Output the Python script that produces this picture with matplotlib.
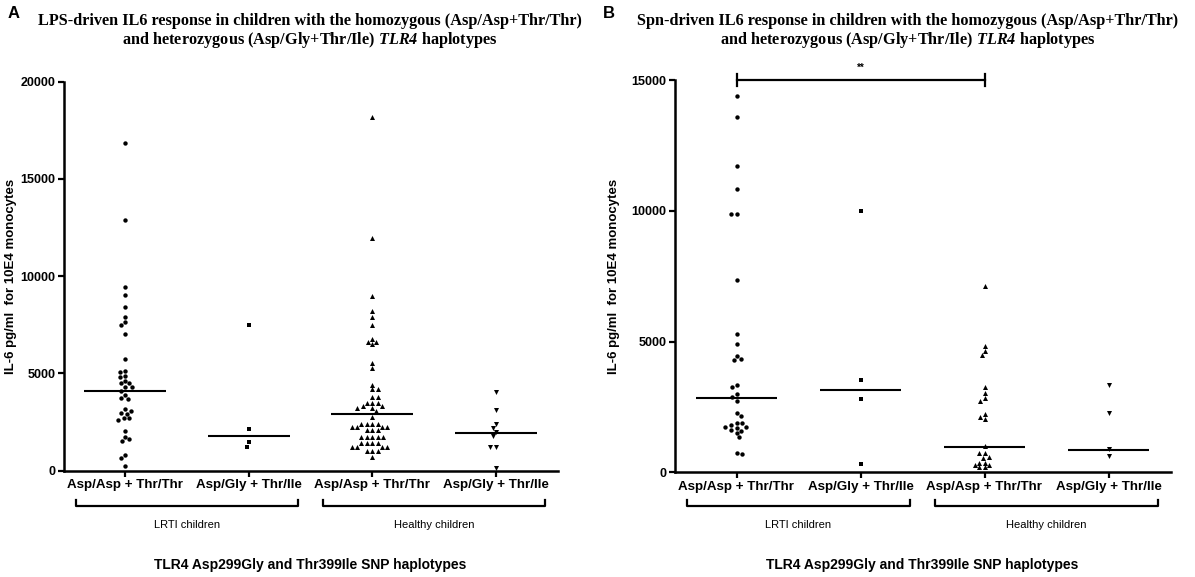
import numpy as np
import matplotlib
matplotlib.use("Agg")
import matplotlib.pyplot as plt
from matplotlib.lines import Line2D

plt.rcParams['font.family'] = ['Liberation Sans', 'DejaVu Sans']
plt.rcParams['mathtext.fontset'] = 'custom'
plt.rcParams['mathtext.it'] = 'Liberation Serif:italic:bold'
plt.rcParams['mathtext.rm'] = 'Liberation Serif:italic:bold'

groups = ["Asp/Asp + Thr/Thr", "Asp/Gly + Thr/Ile", "Asp/Asp + Thr/Thr", "Asp/Gly + Thr/Ile"]
cohorts = ["LRTI children", "Healthy children"]

# panel A: LPS-driven IL6 (pg/ml per 10E4 monocytes)
lps_lrti_homo = [16850, 12890, 9430, 9020, 8400, 7920, 7660, 7490, 7010, 5740, 5140, 5060,
                 4870, 4800, 4630, 4490, 4490, 4290, 4290, 4110, 3890, 3750, 3690, 3150, 3080,
                 2980, 2910, 2690, 2690, 2600, 2040, 1750, 1610, 1530, 810, 640, 240]
lps_lrti_het = [7490, 2160, 1460, 1230]
lps_healthy_homo = [18200, 11980, 8980, 8210, 7890, 7470, 6750, 6630, 6630, 6500, 5520, 5260,
                    4420, 4180, 4180, 3800, 3800, 3500, 3500, 3500, 3330, 3330, 3240, 3240, 3070,
                    2740, 2400, 2400, 2400, 2400, 2260, 2260, 2260, 2260, 2090, 2090, 2090,
                    1750, 1750, 1750, 1750, 1750, 1410, 1410, 1410, 1410, 1240, 1240, 1240,
                    1240, 1030, 1030, 1030, 720]
lps_healthy_het = [4030, 3120, 2390, 2200, 1970, 1780, 1230, 1230, 120]
lps_lines = [4100, 1800, 2920, 1930]

# panel B: Spn-driven IL6
spn_lrti_homo = [14390, 13580, 11710, 10820, 9880, 9880, 7350, 5280, 4910, 4450, 4320, 4290,
                 3340, 3250, 2980, 2890, 2740, 2260, 2150, 1870, 1870, 1810, 1740, 1740, 1680,
                 1620, 1590, 1490, 1340, 750, 700]
spn_lrti_het = [10000, 3530, 2800, 320]
spn_healthy_homo = [7140, 4830, 4650, 4490, 3250, 3020, 2830, 2740, 2230, 2130, 2040, 1020,
                    730, 730, 600, 540, 370, 370, 280, 280, 190, 190]
spn_healthy_het = [3340, 2260, 880, 640]
spn_lines = [2850, 3150, 980, 850]

markers = ['o', 's', '^', 'v']
msizes = [10, 12, 13, 13]

W, H = 1195, 577
fig = plt.figure(figsize=(W / 100, H / 100), dpi=100)


def swarm(vals, px_x, px_y, diam=4.6, step=0.3):
    # simple beeswarm: offsets (data x units) so markers don't overlap
    placed = []
    offs = []
    for n, v in enumerate(vals):
        y = v * px_y
        k = 0
        sign = 1 if n % 2 == 0 else -1
        while True:
            cands = [0.0] if k == 0 else [sign * k * diam * step, -sign * k * diam * step]
            ok_x = None
            for cx in cands:
                if all((cx - px) ** 2 + (y - py) ** 2 >= diam ** 2 for px, py in placed):
                    ok_x = cx
                    break
            if ok_x is not None:
                break
            k += 1
        placed.append((ok_x, y))
        offs.append(ok_x / px_x)
    return np.array(offs)


def panel(rect_px, data, lines, ymax, yticks):
    l, r, t, b = rect_px
    ax = fig.add_axes([l / W, 1 - b / H, (r - l) / W, (b - t) / H])
    px_x = (r - l) / 4.0
    px_y = (b - t) / ymax
    for i, vals in enumerate(data):
        xs = i + 1 + swarm(vals, px_x, px_y)
        ax.scatter(xs, vals, marker=markers[i], s=msizes[i], color='black',
                   linewidths=0, clip_on=False, zorder=3)
        ax.plot([i + 1 - 0.33, i + 1 + 0.33], [lines[i], lines[i]], color='black', lw=1.5,
                solid_capstyle='butt', zorder=2)
    ax.set_xlim(0.5, 4.5)
    ax.set_ylim(0, ymax)
    ax.set_xticks([1, 2, 3, 4])
    ax.set_xticklabels(groups, fontsize=9.6, fontweight='bold')
    ax.set_yticks(yticks)
    ax.set_yticklabels([str(v) for v in yticks], fontsize=9, fontweight='bold')
    for s in ['top', 'right']:
        ax.spines[s].set_visible(False)
    for s in ['left', 'bottom']:
        ax.spines[s].set_linewidth(1.8)
    ax.tick_params(direction='out', length=4.5, width=1.6, pad=1.5)
    ax.set_ylabel("IL-6 pg/ml  for 10E4 monocytes", fontsize=9.5, fontweight='bold', labelpad=4)
    # cohort brackets under the tick labels
    by, bt = 1 - 506 / H, 1 - 500 / H
    for j, (x0, x1) in enumerate([(0.6, 2.4), (2.6, 4.4)]):
        xd0 = fig.transFigure.inverted().transform(ax.transData.transform((x0, 0)))[0]
        xd1 = fig.transFigure.inverted().transform(ax.transData.transform((x1, 0)))[0]
        fig.add_artist(Line2D([xd0, xd0, xd1, xd1], [bt, by, by, bt], color='black', lw=1.6,
                              transform=fig.transFigure))
        fig.text((xd0 + xd1) / 2, 1 - 525 / H, cohorts[j], ha='center', va='center', fontsize=8)
    xm = fig.transFigure.inverted().transform(ax.transData.transform((2.5, 0)))[0]
    fig.text(xm, 1 - 565 / H, "TLR4 Asp299Gly and Thr399Ile SNP haplotypes", ha='center',
             va='center', fontsize=10, fontweight='bold')
    return ax


axA = panel((63.5, 557.5, 81.7, 470.7),
            [lps_lrti_homo, lps_lrti_het, lps_healthy_homo, lps_healthy_het],
            lps_lines, 20000, [0, 5000, 10000, 15000, 20000])
axA.yaxis.set_label_coords(-0.095, 0.5)

axB = panel((674.5, 1170.5, 80, 472.3),
            [spn_lrti_homo, spn_lrti_het, spn_healthy_homo, spn_healthy_het],
            spn_lines, 15000, [0, 5000, 10000, 15000])
axB.yaxis.set_label_coords(-0.11, 0.5)

# significance bar in panel B
axB.plot([1, 3], [15000, 15000], color='black', lw=1.6, clip_on=False)
for xb in [1, 3]:
    axB.plot([xb, xb], [15000 - 230, 15000 + 230], color='black', lw=1.6, clip_on=False)
axB.annotate("**", xy=(2, 15000), xytext=(0, 5), textcoords='offset points',
             ha='center', va='bottom', fontsize=7, fontweight='bold')

title_kw = dict(ha='center', va='center', fontsize=11.7, fontweight='bold',
                family='Liberation Serif')
fig.text(310 / W, 1 - 21 / H,
         "LPS-driven IL6 response in children with the homozygous (Asp/Asp+Thr/Thr)", **title_kw)
fig.text(310 / W, 1 - 40 / H,
         r"and heterozygous (Asp/Gly+Thr/Ile) $\mathit{TLR4}$ haplotypes", **title_kw)
fig.text(908 / W, 1 - 21 / H,
         "Spn-driven IL6 response in children with the homozygous (Asp/Asp+Thr/Thr)", **title_kw)
fig.text(908 / W, 1 - 40 / H,
         r"and heterozygous (Asp/Gly+Thr/Ile) $\mathit{TLR4}$ haplotypes", **title_kw)

fig.text(8 / W, 1 - 13 / H, "A", fontsize=12, fontweight='bold', va='center')
fig.text(603 / W, 1 - 13 / H, "B", fontsize=12, fontweight='bold', va='center')

fig.savefig("out.png", dpi=100)
